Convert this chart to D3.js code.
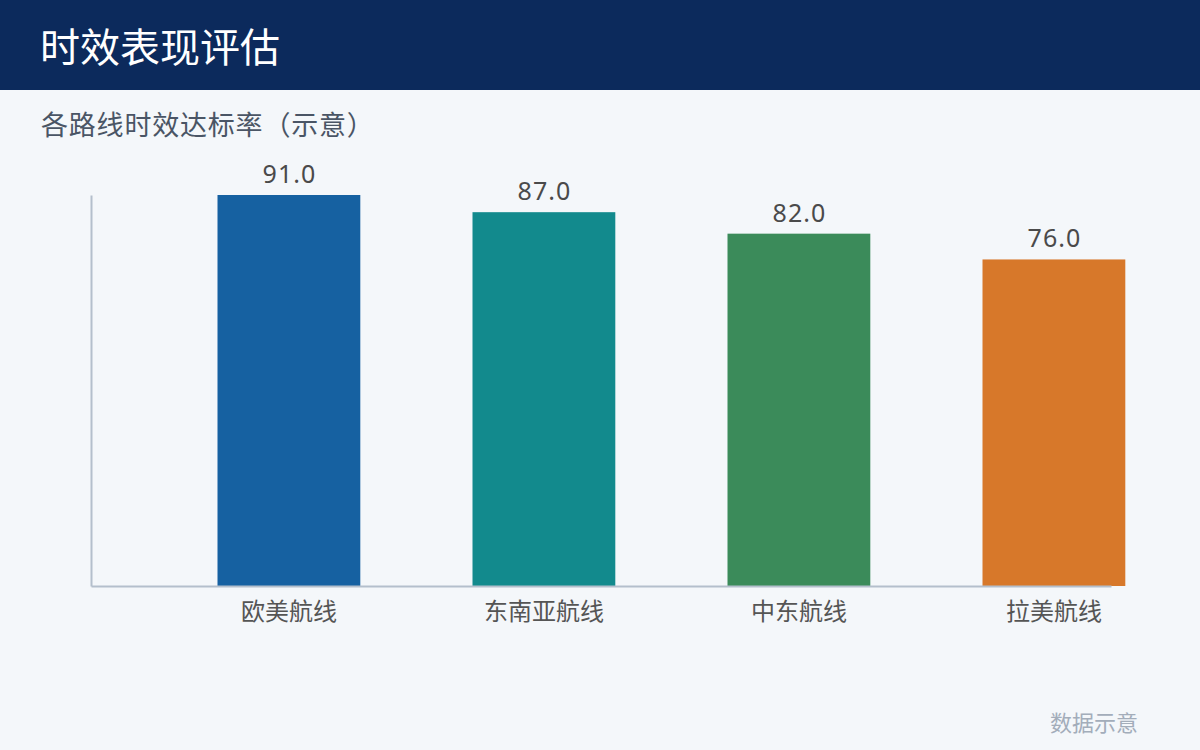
<!DOCTYPE html>
<html>
<head>
<meta charset="utf-8">
<script src="https://cdn.jsdelivr.net/npm/d3@7"></script>
<style>
  html, body { margin: 0; padding: 0; background: #f4f7fa; }
  svg { display: block; }
</style>
</head>
<body>
<svg id="chart" width="1200" height="750"></svg>
<script>
const titleText = "时效表现评估";
const subtitleText = "各路线时效达标率（示意）";
const footerText = "数据示意";
const categories = ["欧美航线", "东南亚航线", "中东航线", "拉美航线"];
const values = [91.0, 87.0, 82.0, 76.0];
const colors = ["#1661a1", "#128a8d", "#3b8b5a", "#d7782a"];

const W = 1200, H = 750;
const svg = d3.select("#chart");
const cjk = "'Noto Sans CJK SC', 'Noto Sans', sans-serif";

svg.append("rect").attr("x", 0).attr("y", 0).attr("width", W).attr("height", H).attr("fill", "#f4f7fa");
svg.append("rect").attr("x", 0).attr("y", 0).attr("width", W).attr("height", 90).attr("fill", "#0c2a5c");

svg.append("text").attr("x", 40).attr("y", 62)
  .attr("font-family", cjk).attr("font-size", 40).attr("fill", "#ffffff")
  .text(titleText);

svg.append("text").attr("x", 41).attr("y", 135)
  .attr("font-family", cjk).attr("font-size", 27).attr("letter-spacing", 0.8).attr("fill", "#4a5565")
  .text(subtitleText);

const plot = { left: 91, right: 1111, top: 195, bottom: 586 };

const x = d3.scaleBand().domain(categories).range([plot.left, plot.right]).padding(0);
const y = d3.scaleLinear().domain([0, d3.max(values)]).range([plot.bottom, plot.top]);

const barW = x.step() * 0.56;
const barX = d => x(d) + x.step() / 2 - 1;

const g = svg.append("g");

g.selectAll("rect.bar").data(categories).join("rect")
  .attr("class", "bar")
  .attr("x", d => barX(d))
  .attr("y", (d, i) => y(values[i]))
  .attr("width", barW)
  .attr("height", (d, i) => plot.bottom - y(values[i]))
  .attr("fill", (d, i) => colors[i]);

// axes lines
const yAxis = d3.axisLeft(y).tickValues([]).tickSizeOuter(0);
const yg = svg.append("g").attr("transform", `translate(${plot.left},0)`).call(yAxis);
yg.select(".domain").attr("stroke", "#b4bfcc").attr("stroke-width", 2);

const xAxis = d3.axisBottom(x).tickValues([]).tickSizeOuter(0);
const xg = svg.append("g").attr("transform", `translate(0,${plot.bottom})`).call(xAxis);
xg.select(".domain").attr("stroke", "#b4bfcc").attr("stroke-width", 2);

// value labels
g.selectAll("text.val").data(categories).join("text")
  .attr("class", "val")
  .attr("x", d => barX(d) + barW / 2 + 0.5)
  .attr("y", (d, i) => y(values[i]) - 12)
  .attr("text-anchor", "middle")
  .attr("font-family", "'Noto Sans', 'Open Sans', sans-serif")
  .attr("font-size", 25)
  .attr("letter-spacing", 1)
  .attr("fill", "#4a4a4a")
  .text((d, i) => values[i].toFixed(1));

// category labels
g.selectAll("text.cat").data(categories).join("text")
  .attr("class", "cat")
  .attr("x", d => barX(d) + barW / 2)
  .attr("y", plot.bottom + 34)
  .attr("text-anchor", "middle")
  .attr("font-family", cjk)
  .attr("font-size", 24)
  .attr("fill", "#555555")
  .text(d => d);

svg.append("text").attr("x", 1138).attr("y", 731)
  .attr("text-anchor", "end")
  .attr("font-family", cjk).attr("font-size", 22).attr("fill", "#a3adba")
  .text(footerText);
</script>
</body>
</html>
